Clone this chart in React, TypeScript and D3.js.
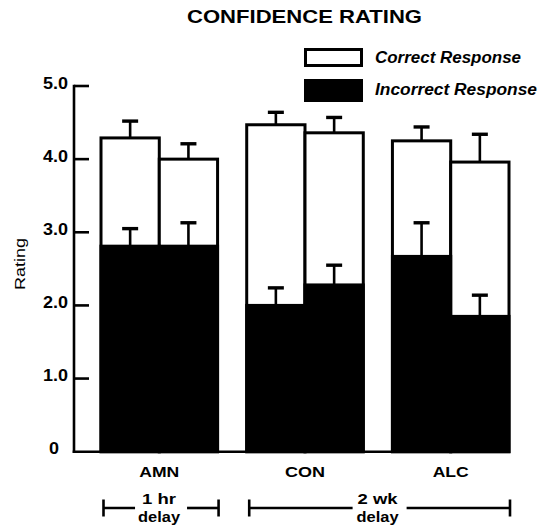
import React, { useEffect } from 'react';
import * as d3 from 'd3';

// groups and the two bars inside each group
const groups = ['AMN', 'CON', 'ALC'];
const barsInGroup = ['first', 'second'];

// mean confidence for correct / incorrect responses, [group][bar]
const correctMean = [[4.29, 4.0], [4.47, 4.36], [4.25, 3.96]];
const correctErr = [[0.23, 0.21], [0.17, 0.21], [0.19, 0.38]];
const incorrectMean = [[2.81, 2.81], [2.0, 2.28], [2.67, 1.85]];
const incorrectErr = [[0.24, 0.32], [0.24, 0.27], [0.46, 0.29]];

const yTicks = [0, 1, 2, 3, 4, 5];
const yTickLabels = ['0', '1.0', '2.0', '3.0', '4.0', '5.0'];

// delay brackets under the groups
const delayLabels = [['1 hr', 'delay'], ['2 wk', 'delay']];
const delaySpans = [['AMN', 'AMN'], ['CON', 'ALC']];

const legendLabels = ['Correct Response', 'Incorrect Response'];

const W = 541;
const H = 528;
const FONT = '"Liberation Sans", Arial, Helvetica, sans-serif';

export default function App() {
  useEffect(() => {
    document.body.style.margin = '0';
  }, []);

  const y = d3.scaleLinear().domain([0, 5]).range([451.7, 86]);
  const xGroup = d3.scaleBand().domain(groups).range([101, 509]).paddingInner(0.2).paddingOuter(0);
  const xBar = d3.scaleBand().domain(barsInGroup).range([0, xGroup.bandwidth()]).padding(0);
  const bw = xBar.bandwidth();
  const axisX = 74;

  const bars = groups.flatMap((g, gi) =>
    barsInGroup.map((b, bi) => ({
      key: g + b,
      x: (xGroup(g) as number) + (xBar(b) as number),
      correct: correctMean[gi][bi],
      correctE: correctErr[gi][bi],
      incorrect: incorrectMean[gi][bi],
      incorrectE: incorrectErr[gi][bi],
    }))
  );

  const errBar = (cx: number, v: number, e: number, key: string) => (
    <g key={key}>
      <line x1={cx} x2={cx} y1={y(v)} y2={y(v + e)} stroke="#000" strokeWidth={2.6} />
      <line x1={cx - 8} x2={cx + 8} y1={y(v + e)} y2={y(v + e)} stroke="#000" strokeWidth={3.4} />
    </g>
  );

  return (
    <svg width={W} height={H} style={{ display: 'block', background: '#fff' }} fontFamily={FONT}>
      {/* title */}
      <text x={304.5} y={23} textAnchor="middle" fontSize={18} fontWeight="bold" textLength={235} lengthAdjust="spacingAndGlyphs">
        CONFIDENCE RATING
      </text>

      {/* legend */}
      <rect x={305.5} y={49.5} width={56} height={16} fill="#fff" stroke="#000" strokeWidth={3} />
      <rect x={304} y={79} width={59} height={23} fill="#000" />
      <text x={375} y={63} fontSize={16} fontWeight="bold" fontStyle="italic" textLength={146} lengthAdjust="spacingAndGlyphs">
        {legendLabels[0]}
      </text>
      <text x={375} y={95} fontSize={16} fontWeight="bold" fontStyle="italic" textLength={162} lengthAdjust="spacingAndGlyphs">
        {legendLabels[1]}
      </text>

      {/* y axis */}
      <line x1={axisX} x2={axisX} y1={y(5) - 1.2} y2={y(0) + 1.2} stroke="#000" strokeWidth={2.6} />
      {yTicks.map((t, i) => (
        <g key={t}>
          {t > 0 && <line x1={axisX} x2={89} y1={y(t)} y2={y(t)} stroke="#000" strokeWidth={2.6} />}
          <text
            x={t === 0 ? 59 : 68}
            y={y(t) + 2.5}
            textAnchor="end"
            fontSize={16}
            fontWeight="bold"
            textLength={t === 0 ? 10 : 25}
            lengthAdjust="spacingAndGlyphs"
          >
            {yTickLabels[i]}
          </text>
        </g>
      ))}
      <text transform={`translate(25,264) rotate(-90)`} textAnchor="middle" fontSize={15} textLength={52} lengthAdjust="spacingAndGlyphs">
        Rating
      </text>

      {/* white bars (correct) */}
      {bars.map(d => (
        <rect key={'c' + d.key} x={d.x} y={y(d.correct)} width={bw} height={y(0) - y(d.correct)} fill="#fff" stroke="#000" strokeWidth={3} />
      ))}
      {/* black bars (incorrect) */}
      {bars.map(d => (
        <rect key={'i' + d.key} x={d.x} y={y(d.incorrect)} width={bw} height={y(0) - y(d.incorrect)} fill="#000" stroke="#000" strokeWidth={3} />
      ))}
      {/* baseline */}
      <line x1={axisX - 1.3} x2={510} y1={y(0)} y2={y(0)} stroke="#000" strokeWidth={2.6} />

      {/* error bars */}
      {bars.map(d => errBar(d.x + bw / 2, d.correct, d.correctE, 'ec' + d.key))}
      {bars.map(d => errBar(d.x + bw / 2, d.incorrect, d.incorrectE, 'ei' + d.key))}

      {/* group labels */}
      {groups.map(g => (
        <text key={g} x={(xGroup(g) as number) + xGroup.bandwidth() / 2} y={477} textAnchor="middle" fontSize={15} fontWeight="bold" textLength={g === 'ALC' ? 36 : 40} lengthAdjust="spacingAndGlyphs">
          {g}
        </text>
      ))}

      {/* delay brackets */}
      {delaySpans.map((span, i) => {
        const x0 = (xGroup(span[0]) as number) + 2.5;
        const x1 = (xGroup(span[1]) as number) + xGroup.bandwidth() + 1;
        const cx = (x0 + x1) / 2;
        const gap = i === 0 ? 26 : 27;
        const ly = 508;
        return (
          <g key={i}>
            <line x1={x0} x2={x0} y1={ly - 8.5} y2={ly + 8.5} stroke="#000" strokeWidth={2.6} />
            <line x1={x1} x2={x1} y1={ly - 8.5} y2={ly + 8.5} stroke="#000" strokeWidth={2.6} />
            <line x1={x0} x2={cx - gap} y1={ly} y2={ly} stroke="#000" strokeWidth={2.6} />
            <line x1={cx + gap} x2={x1} y1={ly} y2={ly} stroke="#000" strokeWidth={2.6} />
            <text x={cx - 2} y={504} textAnchor="middle" fontSize={15} fontWeight="bold" textLength={i === 0 ? 34 : 40} lengthAdjust="spacingAndGlyphs">
              {delayLabels[i][0]}
            </text>
            <text x={cx - 2} y={522} textAnchor="middle" fontSize={15} fontWeight="bold" textLength={42} lengthAdjust="spacingAndGlyphs">
              {delayLabels[i][1]}
            </text>
          </g>
        );
      })}
    </svg>
  );
}
